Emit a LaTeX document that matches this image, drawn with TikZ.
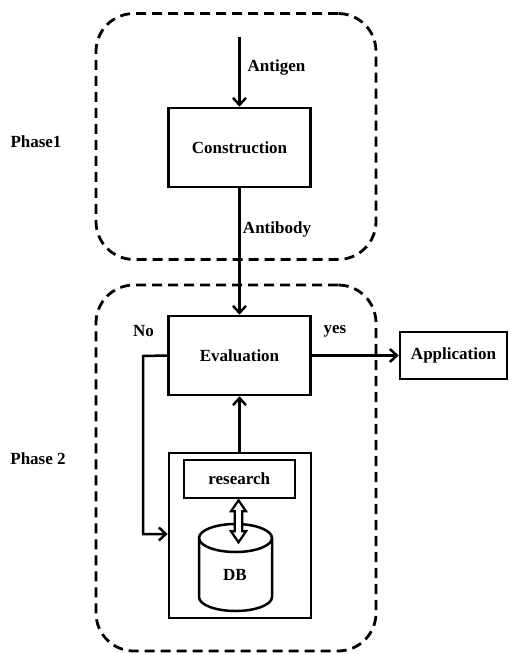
\documentclass[tikz,border=0pt]{standalone}
\usepackage{fontspec}
\setmainfont{Liberation Serif}
\usetikzlibrary{arrows.meta,calc}
\begin{document}
\begin{tikzpicture}[x=1pt,y=-1pt,
  txt/.style={font=\fontsize{17}{20}\selectfont\bfseries, inner sep=0pt},
  box/.style={draw, line width=2.6pt, inner sep=0pt, font=\fontsize{17}{20}\selectfont\bfseries},
  phase/.style={draw, line width=2.8pt, dash pattern=on 10pt off 6pt, rounded corners=38pt, inner sep=0pt},
  conn/.style={line width=2.5pt, -{Straight Barb[length=7pt,width=13pt,line width=2.5pt]}},
  plain/.style={line width=2.5pt}]
\useasboundingbox (0,0) rectangle (509,654);
% phase frames
\node[phase, minimum width=280pt, minimum height=246pt] (ph1) at (236,136.5) {};
\node[phase, minimum width=280pt, minimum height=366pt] (ph2) at (236,468) {};
\node[txt] (ph1lbl) at (36,142) {Phase1};
\node[txt] (ph2lbl) at (38,459) {Phase 2};
% boxes
\node[box, minimum width=142pt, minimum height=79pt] (cons) at (239.5,147.5) {Construction};
\node[box, minimum width=142pt, minimum height=79pt] (eval) at (239.5,355.5) {Evaluation};
\node[box, minimum width=107pt, minimum height=47pt] (app) at (453.5,355.5) {Application};
\node[box, minimum width=142pt, minimum height=165pt] (dbbox) at (240,535.3) {};
\node[box, minimum width=111pt, minimum height=38pt] (res) at (239.3,479) {research};
% cylinder
\draw[line width=2.5pt, fill=white] (199,538) -- (199,597) arc[start angle=180, end angle=0, x radius=36.5, y radius=14] -- (272,538);
\draw[line width=2.5pt] (235.5,538) ellipse[x radius=36.5, y radius=14];
\node[txt] (db) at (235,575) {DB};
% double arrow between research and DB
\coordinate (dt) at ($(res.south)+(-0.8,1)$);
\draw[line width=2.2pt, fill=white, line join=miter]
  (dt) -- ++(7.5,11) -- ++(-3.8,0) -- ++(0,20) -- ++(3.8,0) -- ++(-7.5,11) -- ++(-7.5,-11) -- ++(3.8,0) -- ++(0,-20) -- ++(-3.8,0) -- cycle;
% connectors
\coordinate (start) at (239.5,37);
\draw[conn] (start) -- (cons.north);
\draw[conn] (cons.south) -- (eval.north);
\draw[conn] (dbbox.north -| eval.south) -- (eval.south);
\draw[conn] (eval.east) -- (app.west);
\coordinate (fbl) at (143,356);
\draw[conn] (eval.west) -- (fbl) -- (143,534) -- (dbbox.west |- 0,534);
% labels
\node[txt] (lag) at (276.5,67) {Antigen};
\node[txt] (lab) at (277,229) {Antibody};
\node[txt] (lno) at (143.5,331) {No};
\node[txt] (lyes) at (335,331) {yes};
\end{tikzpicture}
\end{document}
